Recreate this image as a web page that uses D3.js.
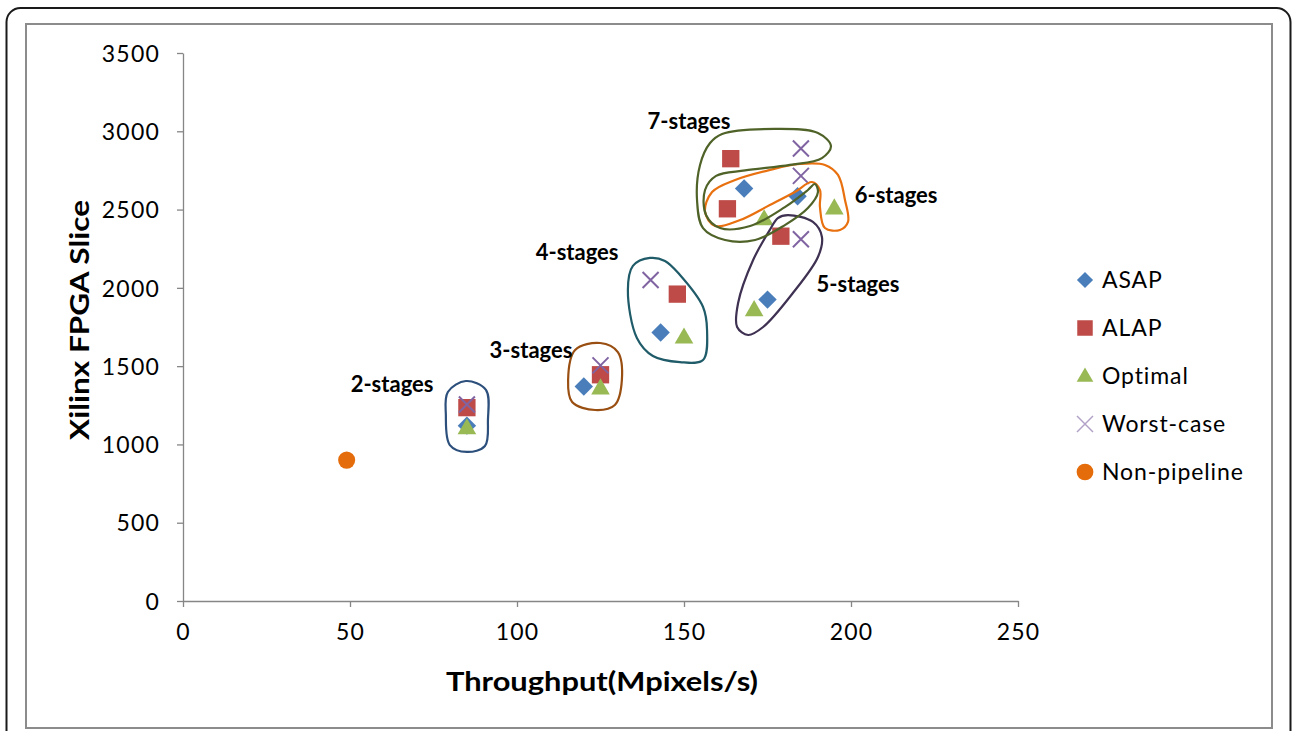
<!DOCTYPE html>
<html>
<head>
<meta charset="utf-8">
<script src="https://cdn.jsdelivr.net/npm/d3@7"></script>
<style>
  body { margin: 0; background: #fff; }
  text { font-family: Lato, "Open Sans", sans-serif; fill: #000; }
</style>
</head>
<body>
<svg class="chart"></svg>
<script>
(function () {
    'use strict';

    // stage order: 2..7
    var stages = ["2-stages", "3-stages", "4-stages", "5-stages", "6-stages", "7-stages"];
    var asapX  = [85, 120, 143, 175, 168, 184];
    var asapY  = [1120, 1370, 1715, 1925, 2635, 2585];
    var alapX  = [85, 125, 148, 179, 163, 164];
    var alapY  = [1235, 1445, 1960, 2330, 2505, 2825];
    var optX   = [85, 125, 150, 171, 195, 174];
    var optY   = [1105, 1360, 1685, 1860, 2510, 2440];
    var worstX = [85, 125, 140, 185, 185, 185];
    var worstY = [1255, 1505, 2050, 2310, 2715, 2890];
    var nonX   = [49];
    var nonY   = [900];

    var xTicks = [0, 50, 100, 150, 200, 250];
    var yTicks = [0, 500, 1000, 1500, 2000, 2500, 3000, 3500];
    var seriesNames = ["ASAP", "ALAP", "Optimal", "Worst-case", "Non-pipeline"];

    // stage label anchors (data units)
    var labelX = [62.6, 104.2, 118, 202.1, 213.5, 151.5];
    var labelY = [1386, 1603, 2229, 2025, 2593, 3066];

    // hand drawn loops around each stage group (data units)
    var loops = [
        [[79.3,1335],[84.7,1405],[90.7,1348],[91.3,1156],[90.4,990],[85,952],[79.9,996],[78.7,1188]],
        [[117.4,1603],[124.9,1648],[130.2,1590],[131.4,1412],[129.3,1252],[123.4,1220],[116.5,1271],[115.3,1412]],
        [[139.8,2191],[134.7,2140],[133.2,1986],[135.9,1680],[140.7,1565],[148.8,1526],[155.7,1539],[156.9,1731],[155.7,1878],[148.8,2082],[144.3,2172]],
        [[181.1,2465],[188.6,2421],[191.3,2325],[190.1,2197],[182.6,1967],[173.7,1750],[169.2,1699],[165.9,1750],[166.2,1903],[170.7,2178],[175.7,2370],[178.1,2446]],
        [[156.3,2485],[158.4,2612],[165.3,2689],[175.7,2753],[184.7,2791],[192.2,2785],[196.1,2721],[198.2,2561],[199.1,2421],[196.7,2370],[192.2,2382],[190.7,2517],[190.7,2625],[188.3,2676],[183.2,2612],[175.7,2529],[166.8,2433],[159.3,2395]],
        [[161.4,2983],[177.2,3015],[190.1,2989],[194,2906],[191.3,2829],[181.7,2785],[168.3,2750],[159.6,2715],[156.3,2625],[156.6,2465],[160.8,2382],[169.8,2395],[180.2,2516],[187.1,2625],[189.2,2663],[190.1,2612],[187.1,2510],[180.2,2401],[171.3,2306],[162.3,2306],[155.7,2382],[153.9,2561],[154.8,2785],[157.8,2925]]
    ];
    var loopColors = ["#2c4f7c", "#9a4f12", "#1f5b68", "#3f3152", "#e8700f", "#4f6228"];

    var colors = {
        ASAP: "#4a7ebb", ALAP: "#be4b48", Optimal: "#98b954",
        "Worst-case": "#8064a2", "Non-pipeline": "#e46c0a"
    };

    var W = 1292, H = 731;
    var svg = d3.select(".chart").attr("width", W).attr("height", H);

    // frames
    svg.append("rect")
        .attr("x", 6.5).attr("y", 8).attr("width", 1284).attr("height", 740)
        .attr("rx", 14).attr("fill", "none").attr("stroke", "#1a1a1a").attr("stroke-width", 2);
    svg.append("rect")
        .attr("x", 26).attr("y", 24).attr("width", 1246).attr("height", 704)
        .attr("fill", "none").attr("stroke", "#8c8c8c").attr("stroke-width", 2);

    var x = d3.scaleLinear().domain([0, 250]).range([183, 1018]);
    var y = d3.scaleLinear().domain([0, 3500]).range([601, 53]);

    var xAxis = svg.append("g")
        .attr("transform", "translate(0," + y(0) + ")")
        .call(d3.axisBottom(x).tickValues(xTicks).tickFormat(d3.format("d"))
            .tickSize(6).tickPadding(17).tickSizeOuter(0));
    var yAxis = svg.append("g")
        .attr("transform", "translate(" + x(0) + ",0)")
        .call(d3.axisLeft(y).tickValues(yTicks).tickFormat(d3.format("d"))
            .tickSize(6).tickPadding(17).tickSizeOuter(0));

    [xAxis, yAxis].forEach(function (a) {
        a.select(".domain").attr("stroke", "#868686").attr("stroke-width", 1.3);
        a.selectAll(".tick line").attr("stroke", "#868686").attr("stroke-width", 1.3);
        a.selectAll(".tick text")
            .style("font-family", "Lato, sans-serif")
            .style("font-size", "23px")
            .style("letter-spacing", "1.2px")
            .attr("fill", "#000");
    });
    yAxis.selectAll(".tick text").attr("dy", "0.36em");
    xAxis.selectAll(".tick text").attr("dy", "0.71em");

    // axis titles
    svg.append("text")
        .attr("x", 602).attr("y", 691)
        .attr("text-anchor", "middle")
        .style("font-size", "26px").style("font-weight", "bold")
        .attr("textLength", 312).attr("lengthAdjust", "spacingAndGlyphs")
        .text("Throughput(Mpixels/s)");
    svg.append("text")
        .attr("transform", "translate(89,320) rotate(-90)")
        .attr("text-anchor", "middle")
        .style("font-size", "26px").style("font-weight", "bold")
        .attr("textLength", 240).attr("lengthAdjust", "spacingAndGlyphs")
        .text("Xilinx FPGA Slice");

    // markers
    var diamond = d3.symbol().type(d3.symbolSquare).size(170);
    var square = d3.symbol().type(d3.symbolSquare).size(300);
    var triangle = d3.symbol().type(d3.symbolTriangle).size(150);
    var circle = d3.symbol().type(d3.symbolCircle).size(230);
    function xPath(r) {
        return "M" + (-r) + "," + (-r) + "L" + r + "," + r + "M" + (-r) + "," + r + "L" + r + "," + (-r);
    }

    function pts(xs, ys) {
        return xs.map(function (d, i) { return {x: d, y: ys[i]}; });
    }

    var marks = svg.append("g");
    marks.selectAll(".asap").data(pts(asapX, asapY)).enter().append("path")
        .attr("class", "asap").attr("d", diamond())
        .attr("transform", function (d) { return "translate(" + x(d.x) + "," + y(d.y) + ") rotate(45)"; })
        .attr("fill", colors.ASAP);
    marks.selectAll(".alap").data(pts(alapX, alapY)).enter().append("path")
        .attr("class", "alap").attr("d", square())
        .attr("transform", function (d) { return "translate(" + x(d.x) + "," + y(d.y) + ")"; })
        .attr("fill", colors.ALAP);
    marks.selectAll(".opt").data(pts(optX, optY)).enter().append("path")
        .attr("class", "opt").attr("d", triangle())
        .attr("transform", function (d) { return "translate(" + x(d.x) + "," + (y(d.y) + 1) + ")"; })
        .attr("fill", colors.Optimal);
    marks.selectAll(".worst").data(pts(worstX, worstY)).enter().append("path")
        .attr("class", "worst").attr("d", xPath(8))
        .attr("transform", function (d) { return "translate(" + x(d.x) + "," + y(d.y) + ")"; })
        .attr("fill", "none").attr("stroke", colors["Worst-case"]).attr("stroke-width", 2);
    marks.selectAll(".non").data(pts(nonX, nonY)).enter().append("path")
        .attr("class", "non").attr("d", circle())
        .attr("transform", function (d) { return "translate(" + x(d.x) + "," + y(d.y) + ")"; })
        .attr("fill", colors["Non-pipeline"]);

    // loops
    var loopLine = d3.line()
        .x(function (d) { return x(d[0]); })
        .y(function (d) { return y(d[1]); })
        .curve(d3.curveCatmullRomClosed.alpha(0.5));
    svg.append("g").selectAll("path").data(loops).enter().append("path")
        .attr("d", loopLine)
        .attr("fill", "none")
        .attr("stroke", function (d, i) { return loopColors[i]; })
        .attr("stroke-width", 2.2);

    // stage labels
    svg.append("g").selectAll("text").data(stages).enter().append("text")
        .attr("x", function (d, i) { return x(labelX[i]); })
        .attr("y", function (d, i) { return y(labelY[i]); })
        .attr("dy", "0.35em")
        .attr("text-anchor", "middle")
        .style("font-size", "22px").style("font-weight", "bold")
        .text(function (d) { return d; });

    // legend
    var legend = svg.append("g").attr("transform", "translate(1085,280)");
    var rows = legend.selectAll("g").data(seriesNames).enter().append("g")
        .attr("transform", function (d, i) { return "translate(0," + (i * 48) + ")"; });
    rows.each(function (d) {
        var g = d3.select(this);
        if (d === "ASAP") {
            g.append("path").attr("d", d3.symbol().type(d3.symbolSquare).size(130)())
                .attr("transform", "rotate(45)").attr("fill", colors[d]);
        } else if (d === "ALAP") {
            g.append("path").attr("d", d3.symbol().type(d3.symbolSquare).size(240)()).attr("fill", colors[d]);
        } else if (d === "Optimal") {
            g.append("path").attr("d", d3.symbol().type(d3.symbolTriangle).size(120)())
                .attr("transform", "translate(0,1)").attr("fill", colors[d]);
        } else if (d === "Worst-case") {
            g.append("path").attr("d", xPath(8)).attr("fill", "none")
                .attr("stroke", "#b3a2c7").attr("stroke-width", 1.5);
        } else {
            g.append("path").attr("d", d3.symbol().type(d3.symbolCircle).size(220)()).attr("fill", colors[d]);
        }
        g.append("text").attr("x", 17).attr("dy", "0.36em")
            .style("font-size", "23px").style("letter-spacing", "0.9px")
            .text(d);
    });
})();
</script>
</body>
</html>
